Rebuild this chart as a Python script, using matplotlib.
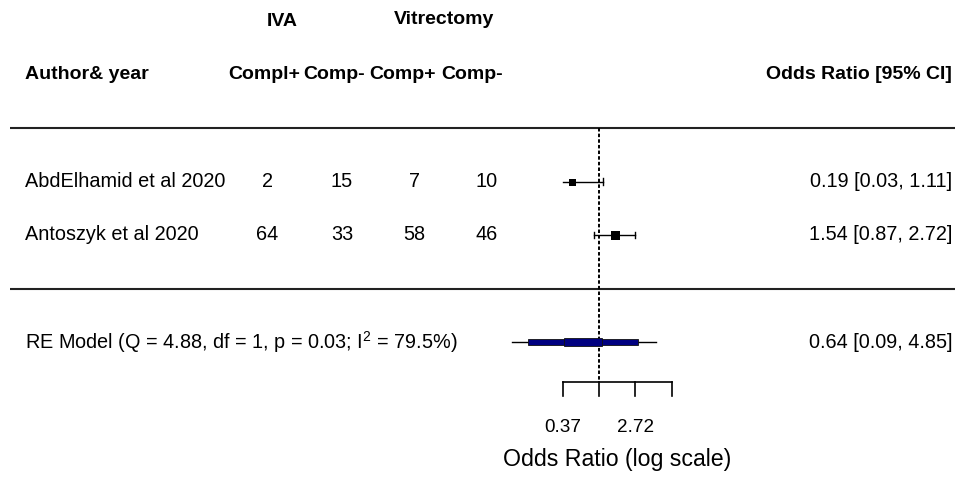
import numpy as np
import matplotlib.pyplot as plt
from matplotlib.patches import Rectangle

plt.rcParams['font.family'] = ['Liberation Sans', 'DejaVu Sans']
plt.rcParams['mathtext.fontset'] = 'custom'
plt.rcParams['mathtext.rm'] = 'Liberation Sans'

# data
studies = ['AbdElhamid et al 2020', 'Antoszyk et al 2020']
iva_pos = [2, 64]
iva_neg = [15, 33]
vit_pos = [7, 58]
vit_neg = [10, 46]
or_est = [0.19, 1.54]
or_lo = [0.03, 0.87]
or_hi = [1.11, 2.72]
box_at = [0.47, 1.54]      # where the squares sit in the figure
box_px = [7, 9]
re_est, re_lo, re_hi = 0.64, 0.09, 4.85
re_band = (0.14, 2.90)
re_box = (0.38, 1.08)
q_stat, q_df, q_p, i2 = 4.88, 1, 0.03, 79.5
tick_vals = [np.exp(-1), 1.0, np.exp(1), np.exp(2)]
tick_labels = ['0.37', '', '2.72', '']

# layout
W, H = 955, 479
k, x0 = 36.3, 599     # px per log unit, px of OR=1
u, y0 = 53.5, 342     # px per row, px of RE row
rows = [3, 2]
fig = plt.figure(figsize=(W / 100, H / 100), dpi=100)
ax = fig.add_axes([0, 0, 1, 1])
ax.set_xlim(-x0 / k, (W - x0) / k)
ax.set_ylim((y0 - H) / u, y0 / u)
ax.axis('off')
tr = ax.get_yaxis_transform()


def fx(px):
    return px / W


fs = 14.3
alim = (np.log(tick_vals[0]), np.log(tick_vals[-1]))

# header
ax.text(fx(282), 6.0, 'IVA', transform=tr, ha='center', va='center', fontsize=14, fontweight='bold')
ax.text(fx(444), 6.02, 'Vitrectomy', transform=tr, ha='center', va='center', fontsize=14, fontweight='bold')
ax.text(fx(25), 5, 'Author& year', transform=tr, ha='left', va='center', fontsize=14, fontweight='bold')
for cx, lab in zip([264, 334, 402, 472], ['Compl+', 'Comp-', 'Comp+', 'Comp-']):
    ax.text(fx(cx), 5, lab, transform=tr, ha='center', va='center', fontsize=14, fontweight='bold')
ax.text(fx(952), 5, 'Odds Ratio [95% CI]', transform=tr, ha='right', va='center', fontsize=14, fontweight='bold')

# horizontal rules
for yy in [4, 1]:
    ax.plot([fx(10), 1], [yy, yy], transform=tr, color='#222222', lw=1.5, solid_capstyle='butt')

# reference line
ax.plot([0, 0], [4, -0.75], color='black', lw=1.4, linestyle=(0, (1.8, 1.1)))

# studies
cap = 0.062
for i, row in enumerate(rows):
    ax.text(fx(25), row, studies[i], transform=tr, ha='left', va='center', fontsize=fs)
    for cx, v in zip([267, 342, 414, 487], [iva_pos[i], iva_neg[i], vit_pos[i], vit_neg[i]]):
        ax.text(fx(cx), row, str(v), transform=tr, ha='center', va='center', fontsize=fs)
    ax.text(fx(952), row, f'{or_est[i]:.2f} [{or_lo[i]:.2f}, {or_hi[i]:.2f}]',
            transform=tr, ha='right', va='center', fontsize=fs)
    lo, hi = np.log(or_lo[i]), np.log(or_hi[i])
    ax.plot([max(lo, alim[0]), min(hi, alim[1])], [row, row], color='black', lw=1.0)
    if lo >= alim[0]:
        ax.plot([lo, lo], [row - cap, row + cap], color='black', lw=1.0)
    if hi <= alim[1]:
        ax.plot([hi, hi], [row - cap, row + cap], color='black', lw=1.0)
    ax.plot(np.log(box_at[i]), row, marker='s', ms=box_px[i] * 0.72, color='black', mew=0)

# RE model
ax.text(fx(25), 0, 'RE Model (Q = %.2f, df = %d, p = %.2f; $\\mathregular{I^2}$ = %.1f%%)' % (q_stat, q_df, q_p, i2),
        transform=tr, ha='left', va='center', fontsize=fs)
ax.text(fx(952), 0, f'{re_est:.2f} [{re_lo:.2f}, {re_hi:.2f}]', transform=tr, ha='right', va='center', fontsize=fs)
ax.plot([np.log(re_lo), np.log(re_hi)], [0, 0], color='black', lw=1.0)
bh = 5.3 / u
ax.add_patch(Rectangle((np.log(re_band[0]), -bh / 2), np.log(re_band[1]) - np.log(re_band[0]), bh,
                       facecolor='#000080', edgecolor='#111111', lw=0.6, zorder=3))
xh = 8.4 / u
ax.add_patch(Rectangle((np.log(re_box[0]), -xh / 2), np.log(re_box[1]) - np.log(re_box[0]), xh,
                       facecolor='#000080', edgecolor='#111111', lw=0.6, zorder=4))

# x axis
ax.plot(alim, [-0.75, -0.75], color='black', lw=1.2)
for t, lab in zip(tick_vals, tick_labels):
    ax.plot([np.log(t)] * 2, [-0.75, -1.0], color='black', lw=1.2)
    if lab:
        ax.text(np.log(t), -1.6, lab, ha='center', va='center', fontsize=13.6)
ax.text(np.mean(alim), -2.2, 'Odds Ratio (log scale)', ha='center', va='center', fontsize=16.7)

fig.savefig('out.png', dpi=100)
